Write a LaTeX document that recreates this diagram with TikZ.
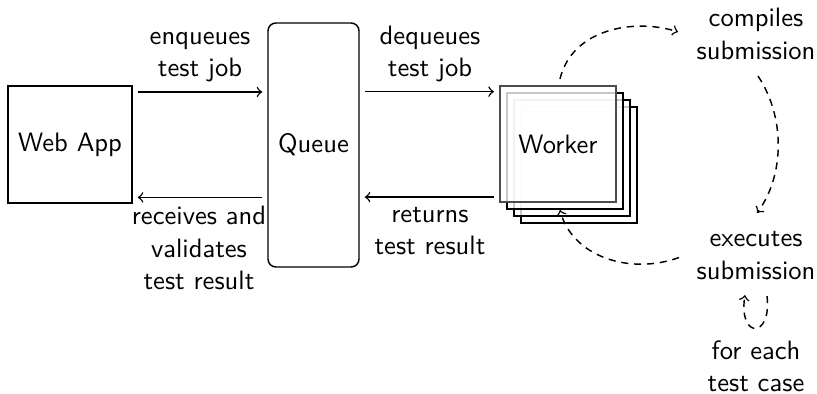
\documentclass[tikz,border=0pt]{standalone}
\usetikzlibrary{calc}

% one drawing unit
\newlength{\upx}
\setlength{\upx}{0.38pt}

\tikzset{
  every node/.style={font=\sffamily\fontsize{10.1pt}{12.4pt}\selectfont},
  box/.style={draw, line width=0.55pt, inner sep=0pt},
  lbl/.style={align=center, inner sep=0pt, anchor=base},
  workercopy/.style={draw, line width=0.55pt, fill=white, fill opacity=0.78,
    minimum width=116\upx, minimum height=116\upx, inner sep=0pt},
  flow/.style={->, line width=0.55pt, shorten >=1.9pt, shorten <=1.9pt},
  cycle/.style={->, dash pattern=on 2.7pt off 2.2pt, line width=0.55pt},
}

\begin{document}
\begin{tikzpicture}[x=0.38pt, y=-0.38pt]
  \useasboundingbox (0,0) rectangle (817,394);

  % main components
  \node[box, minimum width=124\upx, minimum height=117\upx] (webapp) at (70,144.5) {Web App};
  \node[box, rounded corners=3pt, minimum width=91\upx, minimum height=244\upx] (queue) at (313.5,145) {Queue};

  % stacked workers, back to front
  \node[workercopy] (worker3) at (579,165) {};
  \node[workercopy] (worker2) at (572,158) {};
  \node[workercopy] (worker1) at (565,151) {};
  \node[workercopy, draw=black!70, line width=0.8pt, text opacity=1] (worker) at (558,144) {Worker};

  % request / response arrows
  \draw[flow] ($(webapp.north east)+(0,6.7)$) -- ($(webapp.north east -| queue.west)+(0,6.7)$);
  \draw[flow] ($(queue.west |- webapp.south east)+(0,-6.3)$) -- ($(webapp.south east)+(0,-6.3)$);
  \draw[flow] ($(queue.east |- worker.north)+(0,6.7)$) -- ($(worker.north west)+(0,6.7)$);
  \draw[flow] ($(worker.south west)+(0,-6)$) -- ($(queue.east |- worker.south)+(0,-6)$);

  % arrow labels
  \node[lbl] (enq) at (200,76.7) {enqueues\\test job};
  \node[lbl] (deq) at (430,76.7) {dequeues\\test job};
  \node[lbl] (recv) at (199,290) {receives and\\validates\\test result};
  \node[lbl] (ret) at (430,255) {returns\\test result};

  % worker steps
  \node[lbl] (compiles) at (756,59.3) {compiles\\submission};
  \node[lbl] (executes) at (756,279.3) {executes\\submission};
  \node[lbl] (eachcase) at (756,391.7) {for each\\test case};

  % worker cycle
  \draw[cycle] ($(worker.north)+(2,-6)$)
    .. controls ($(worker.north)+(14,-56)$) and ($(compiles.west)+(-62,-16)$)
    .. ($(compiles.west)+(-18,-2)$);
  \draw[cycle] ($(compiles.south)+(2,16)$)
    .. controls ($(compiles.south)+(29,56)$) and ($(executes.north)+(29,-56)$)
    .. ($(executes.north)+(1,-18)$);
  \draw[cycle] ($(executes.west)+(-17,2)$)
    .. controls ($(executes.west)+(-67,20)$) and ($(worker.south)+(14,53)$)
    .. ($(worker.south)+(2,7)$);
  \draw[cycle] ($(executes.south)+(11,16)$)
    .. controls ($(executes.south)+(16,59)$) and ($(executes.south)+(-18,59)$)
    .. ($(executes.south)+(-11,15)$);
\end{tikzpicture}
\end{document}
